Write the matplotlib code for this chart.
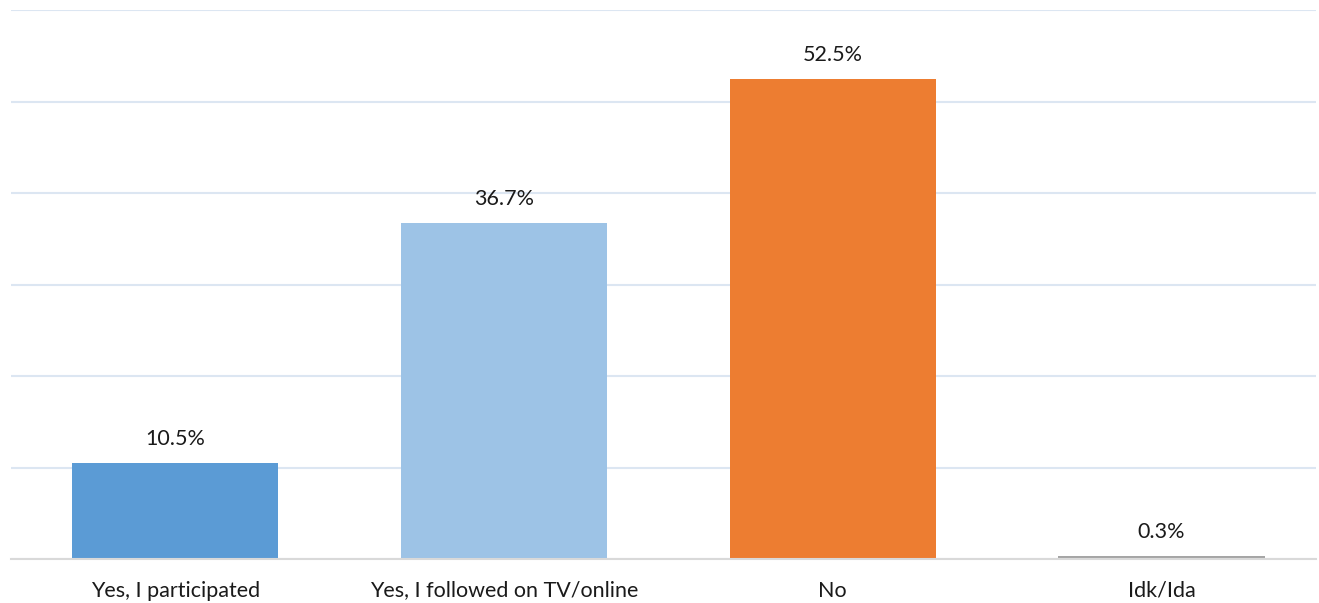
import matplotlib
matplotlib.use("Agg")
import matplotlib.pyplot as plt

# data
categories = ["Yes, I participated", "Yes, I followed on TV/online", "No", "Idk/Ida"]
values = [10.5, 36.7, 52.5, 0.3]
bar_colors = ["#5B9BD5", "#9DC3E6", "#ED7D31", "#A5A5A5"]
yticks = [0, 10, 20, 30, 40, 50, 60]

plt.rcParams['font.family'] = ['Lato', 'DejaVu Sans']

fig = plt.figure(figsize=(13.19, 6.03), dpi=100)
ax = fig.add_axes([11 / 1319, 1 - 559 / 603, 1305 / 1319, 549 / 603])

x = range(len(categories))
bars = ax.bar(x, values, width=0.627, color=bar_colors, zorder=3)

for b, v in zip(bars, values):
    ax.annotate("%.1f%%" % v, (b.get_x() + b.get_width() / 2, v),
                xytext=(0, 10), textcoords="offset points",
                ha="center", va="bottom", fontsize=15.5, color="#1a1a1a")

ax.set_ylim(0, 60)
ax.set_xlim(-0.5, 3.47)
ax.set_yticks(yticks)
ax.yaxis.grid(True, color="#DCE6F2", linewidth=1.5, zorder=0)
ax.tick_params(axis="y", left=False, labelleft=False)
ax.tick_params(axis="x", bottom=False, pad=12)
ax.set_xticks(list(x))
ax.set_xticklabels(categories, fontsize=15.5, color="#1a1a1a")

for s in ["top", "right", "left"]:
    ax.spines[s].set_visible(False)
ax.spines["bottom"].set_color("#D9D9D9")
ax.spines["bottom"].set_linewidth(1.5)
ax.spines["bottom"].set_zorder(4)

fig.savefig("out.png", dpi=100)
